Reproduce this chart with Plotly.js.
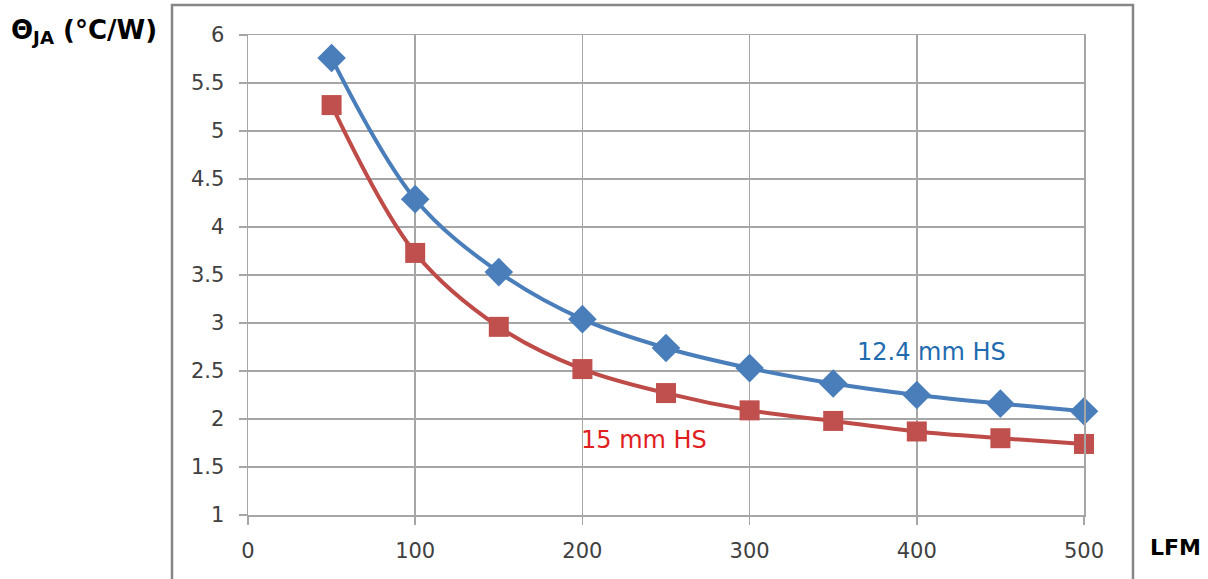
<!DOCTYPE html>
<html>
<head>
<meta charset="utf-8">
<script src="https://cdn.plot.ly/plotly-3.0.1.min.js"></script>
<style>html,body{margin:0;padding:0;background:#fff;}#chart{width:1208px;height:579px;}</style>
</head>
<body>
<div id="chart"></div>
<script>
const lfm = [50, 100, 150, 200, 250, 300, 350, 400, 450, 500];
const hs124 = [5.76, 4.29, 3.53, 3.04, 2.74, 2.53, 2.37, 2.25, 2.16, 2.08];
const hs15 = [5.27, 3.73, 2.96, 2.52, 2.27, 2.09, 1.98, 1.87, 1.80, 1.74];
const seriesNames = ["12.4 mm HS", "15 mm HS"];
const xTicks = [0, 100, 200, 300, 400, 500];
const yTicks = [1, 1.5, 2, 2.5, 3, 3.5, 4, 4.5, 5, 5.5, 6];

const font = "DejaVu Sans, Verdana, sans-serif";
const grid = "#a6a6a6";

const traces = [
  {x: lfm, y: hs124, name: seriesNames[0], mode: "lines+markers", cliponaxis: false,
   line: {color: "#4a7ebb", width: 4, shape: "spline", smoothing: 1},
   marker: {symbol: "diamond", size: 22, color: "#4a7ebb"}},
  {x: lfm, y: hs15, name: seriesNames[1], mode: "lines+markers", cliponaxis: false,
   line: {color: "#be4b48", width: 4, shape: "spline", smoothing: 1},
   marker: {symbol: "square", size: 20, color: "#c0504d"}}
];

const layout = {
  width: 1208, height: 579,
  margin: {l: 248, r: 124, t: 35, b: 64},
  paper_bgcolor: "#fff", plot_bgcolor: "#fff",
  showlegend: false,
  font: {family: font, color: "#404040", size: 21},
  xaxis: {range: [0, 500], tickvals: xTicks, ticktext: xTicks.map(String),
    showgrid: true, gridcolor: grid, gridwidth: 1.5, zeroline: false,
    showline: true, linecolor: grid, linewidth: 1.5, mirror: true,
    ticks: "outside", ticklen: 8, tickcolor: grid, tickwidth: 1.5,
    ticklabelstandoff: 8,
    tickfont: {family: font, size: 21, color: "#404040"}},
  yaxis: {range: [1, 6], tickvals: yTicks, ticktext: yTicks.map(String),
    showgrid: true, gridcolor: grid, gridwidth: 1.5, zeroline: false,
    showline: true, linecolor: grid, linewidth: 1.5, mirror: true,
    ticks: "outside", ticklen: 8, tickcolor: grid, tickwidth: 1.5,
    ticklabelstandoff: 10,
    tickfont: {family: font, size: 21, color: "#404040"}},
  shapes: [
    {type: "rect", xref: "paper", yref: "paper", x0: -0.0909, x1: 1.0586, y0: -0.3, y1: 1.0625,
     line: {color: "#868686", width: 2.5}, fillcolor: "rgba(0,0,0,0)", layer: "below"}
  ],
  annotations: [
    {text: seriesNames[0], x: 409, y: 2.70, xref: "x", yref: "y", showarrow: false,
     font: {family: font, size: 24, color: "#1f6bb0"}},
    {text: seriesNames[1], x: 237, y: 1.78, xref: "x", yref: "y", showarrow: false,
     font: {family: font, size: 24, color: "#e0201e"}},
    {text: "<b>Θ<sub>JA</sub> (°C/W)</b>", xref: "paper", yref: "paper",
     x: (9 - 248) / 836, y: 1 - (31 - 35) / 480, xanchor: "left", yanchor: "middle",
     showarrow: false, font: {family: font, size: 26, color: "#000"}},
    {text: "<b>LFM</b>", xref: "paper", yref: "paper",
     x: (1175 - 248) / 836, y: -(547 - 515) / 480, xanchor: "center", yanchor: "middle",
     showarrow: false, font: {family: font, size: 22, color: "#000"}}
  ]
};

Plotly.newPlot("chart", traces, layout, {displayModeBar: false, staticPlot: true});
</script>
</body>
</html>
